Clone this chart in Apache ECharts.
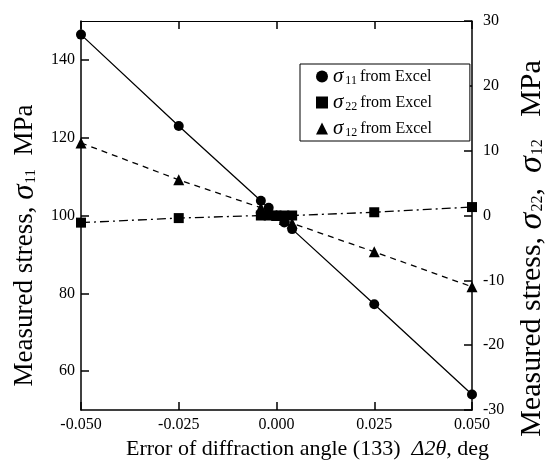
<!DOCTYPE html>
<html><head><meta charset="utf-8">
<script src="https://cdn.jsdelivr.net/npm/echarts@6/dist/echarts.min.js"></script>
<style>html,body{margin:0;padding:0;background:#fff}#c{width:548px;height:463px}</style>
</head><body><div id="c"></div>
<script>
var xVals = [-0.05, -0.025, -0.004, -0.002, 0, 0.002, 0.004, 0.025, 0.05];
var s11 = [146.5, 123.0, 103.8, 102.0, 100.0, 98.2, 96.5, 77.2, 54.0];
var s22 = [-1.1, -0.4, 0.0, 0.0, 0.0, 0.0, 0.0, 0.5, 1.3];
var s12 = [11.2, 5.5, 1.2, 0.6, 0.0, -0.6, -1.2, -5.6, -11.0];
var leftTicks = [60, 80, 100, 120, 140];
var seriesNames = ['s11', 's22', 's12'];
var subs = {s11: '11', s22: '22', s12: '12'};

function pairs(ys){ return xVals.map(function(x,i){ return [x, ys[i]]; }); }
var font = 'Liberation Serif, Times New Roman, serif';
var chart = echarts.init(document.getElementById('c'));
var axisCommon = {
  axisLine: {show: true, onZero: false, lineStyle: {color: '#000', width: 1.5}},
  axisTick: {show: true, inside: true, length: 8, lineStyle: {color: '#000', width: 1.5}},
  splitLine: {show: false},
  axisLabel: {color: '#000', fontFamily: font, fontSize: 16}
};
function yName(size, sub){ return {a: {fontFamily: font, fontSize: size, color: '#000'}, s: {fontFamily: font, fontSize: size + 4, fontStyle: 'italic', color: '#000'}, sub: {fontFamily: font, fontSize: sub, color: '#000', padding: [12, 0, 0, 1]}}; }
chart.setOption({
  animation: false,
  grid: {left: 81, right: 76, top: 21, bottom: 53, show: false, containLabel: false, outerBoundsMode: 'none'},
  legend: {
    orient: 'vertical', left: 300, top: 64,
    padding: [2, 38, 2, 16], itemGap: 5, itemWidth: 12, itemHeight: 12,
    borderColor: '#000', borderWidth: 1, backgroundColor: '#fff',
    data: [{name: 's11', icon: 'circle'}, {name: 's22', icon: 'rect'}, {name: 's12', icon: 'triangle'}],
    formatter: function(n){ return '{s|σ}{sub|' + subs[n] + '} {t|from Excel}'; },
    textStyle: {color: '#000', fontFamily: font, rich: {
      s: {fontSize: 21, fontStyle: 'italic', fontFamily: font, lineHeight: 21},
      sub: {fontSize: 12, fontFamily: font, padding: [9, 0, 0, 2]},
      t: {fontSize: 16, fontFamily: font}
    }}
  },
  xAxis: [
    Object.assign({}, axisCommon, {
      type: 'value', min: -0.05, max: 0.05, interval: 0.025, position: 'bottom',
      axisLabel: Object.assign({}, axisCommon.axisLabel, {margin: 7, formatter: function(v){ return v.toFixed(3); }}),
      name: '{a|Error of diffraction angle (133)  }{b|Δ2θ}{a|, deg}', nameLocation: 'middle', nameGap: 19,
      nameTextStyle: {color: '#000', padding: [0, 0, 0, 62], rich: {a: {fontFamily: font, fontSize: 22, color: '#000'}, b: {fontFamily: font, fontSize: 22, fontStyle: 'italic', color: '#000'}}}
    }),
    Object.assign({}, axisCommon, {
      type: 'value', min: -0.05, max: 0.05, interval: 0.025, position: 'top',
      axisLine: {show: true, onZero: false, lineStyle: {color: '#000', width: 1}},
      axisLabel: {show: false}
    })
  ],
  yAxis: [
    Object.assign({}, axisCommon, {
      type: 'value', min: 50, max: 150, position: 'left',
      axisTick: Object.assign({}, axisCommon.axisTick, {customValues: leftTicks}),
      axisLabel: Object.assign({}, axisCommon.axisLabel, {customValues: leftTicks, margin: 6}),
      name: '{a|Measured stress, }{s|σ}{sub|11}{a|  MPa}', nameLocation: 'middle', nameGap: 40, nameRotate: 90,
      nameTextStyle: {color: '#000', padding: [0, 60, 0, 0], rich: yName(27, 15)}
    }),
    Object.assign({}, axisCommon, {
      type: 'value', min: -30, max: 30, interval: 10, position: 'right',
      axisLabel: Object.assign({}, axisCommon.axisLabel, {margin: 11}),
      name: '{a|Measured stress, }{s|σ}{sub|22}{a|,  }{s|σ}{sub|12}{a|   MPa}', nameLocation: 'middle', nameGap: 28, nameRotate: 90,
      nameTextStyle: {color: '#000', padding: [0, 66, 0, 0], rich: yName(30, 16)}
    })
  ],
  series: [
    {name: 's11', type: 'line', yAxisIndex: 0, data: pairs(s11), symbol: 'circle', symbolSize: 10,
     itemStyle: {color: '#000'}, lineStyle: {color: '#000', width: 1.3, type: 'solid'}},
    {name: 's22', type: 'line', yAxisIndex: 1, data: pairs(s22), symbol: 'rect', symbolSize: 10,
     itemStyle: {color: '#000'}, lineStyle: {color: '#000', width: 1.3, type: [9, 4, 2, 4]}},
    {name: 's12', type: 'line', yAxisIndex: 1, data: pairs(s12), symbol: 'triangle', symbolSize: 11,
     itemStyle: {color: '#000'}, lineStyle: {color: '#000', width: 1.3, type: [6, 5]}}
  ]
});
</script></body></html>
